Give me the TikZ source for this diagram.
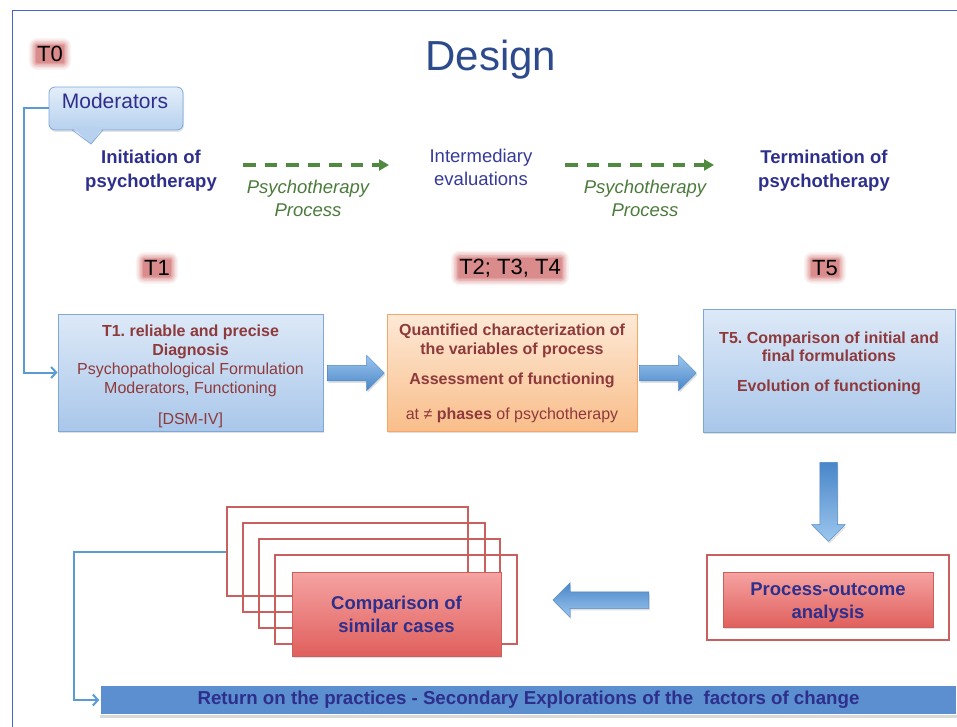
\documentclass[tikz,border=0pt]{standalone}
\usepackage{fontspec}
\setmainfont{Liberation Sans}
\usetikzlibrary{shapes.arrows,shadows,calc,arrows.meta,backgrounds}
\frenchspacing

\definecolor{navy}{HTML}{2E2F8C}
\definecolor{midnavy}{HTML}{363A98}
\definecolor{titleblue}{HTML}{2D4B8C}
\definecolor{framecol}{HTML}{4466C4}
\definecolor{linkblue}{HTML}{5B9BD5}
\definecolor{boxred}{HTML}{8E3A3C}
\definecolor{bluetop}{HTML}{DDE9F7}
\definecolor{bluebot}{HTML}{A9C7EA}
\definecolor{blueedge}{HTML}{7FA7D8}
\definecolor{modtop}{HTML}{E3EEF9}
\definecolor{modbot}{HTML}{B7D1EF}
\definecolor{ortop}{HTML}{FDE9D6}
\definecolor{orbot}{HTML}{F9BE8A}
\definecolor{oredge}{HTML}{F4A766}
\definecolor{redtop}{HTML}{F5A3A2}
\definecolor{redbot}{HTML}{E0605D}
\definecolor{rededge}{HTML}{C9605E}
\definecolor{procgreen}{HTML}{4B7B3B}
\definecolor{dashgreen}{HTML}{4F8A40}
\definecolor{glowred}{HTML}{CC5F5F}
\definecolor{arrtop}{HTML}{9CC6EE}
\definecolor{arrmid}{HTML}{6CA6DF}
\definecolor{arrbot}{HTML}{4A86C8}
\definecolor{barblue}{HTML}{5B8FD0}

% time-point label with a soft red halo behind it
\newcommand\glowlabel[3]{%
  \node[tlab] (#1) at (#2) {#3};
  \begin{pgfonlayer}{background}
    \foreach \r/\o in {8/0.08,6.5/0.11,5/0.15,3.5/0.2,2/0.26,0.8/0.32}{%
      \fill[glowred, opacity=\o, rounded corners=\r pt]
        ($(#1.south west)+(-\r,\r)$) rectangle ($(#1.north east)+(\r,-\r)$);}
  \end{pgfonlayer}}

\begin{document}
\begin{tikzpicture}[x=1pt,y=-1pt,
  tlab/.style={font=\fontsize{22}{24}\selectfont, text=black, inner sep=0pt},
  stagetxt/.style={font=\fontsize{18.5}{24}\selectfont\bfseries, text=navy, align=center},
  midtxt/.style={font=\fontsize{18.5}{23}\selectfont, text=midnavy, align=center},
  proctxt/.style={font=\fontsize{18.5}{23}\selectfont\itshape, text=procgreen, align=center},
  dasharrow/.style={dashgreen, line width=3.2pt, dash pattern=on 12.5pt off 9pt,
    -{Triangle[length=10pt,width=11pt]}},
  softshadow/.style={drop shadow={shadow xshift=1pt, shadow yshift=-2pt, opacity=0.25}},
  bluebox/.style={draw=blueedge, line width=1pt, top color=bluetop, bottom color=bluebot,
    softshadow, minimum height=117pt},
  orangebox/.style={draw=oredge, line width=1pt, top color=ortop, bottom color=orbot,
    softshadow, minimum height=117pt},
  boxtext/.style={text=boxred, align=center, font=\fontsize{16}{19}\selectfont},
  redbox/.style={draw=rededge, line width=0.8pt, top color=redtop, bottom color=redbot,
    softshadow},
  redtext/.style={text=navy, align=center, font=\fontsize{18.5}{23}\selectfont\bfseries},
  redframe/.style={draw=rededge, line width=2.5pt},
  blockarrow/.style={single arrow, inner xsep=0pt, draw=arrbot, line width=0.5pt,
    top color=arrtop, middle color=arrmid, bottom color=arrbot, softshadow},
  link/.style={linkblue, line width=2pt, -{Straight Barb[length=5pt,width=11pt]}},
  modbox/.style={draw=blueedge, line width=0.8pt, rounded corners=6pt, top color=modtop,
    bottom color=modbot, minimum width=134pt, minimum height=43pt},
  modtext/.style={font=\fontsize{21}{24}\selectfont, text=navy},
  barstyle/.style={fill=barblue, draw=white, line width=1.5pt, minimum width=857pt,
    minimum height=29pt, font=\fontsize{18.7}{20}\selectfont\bfseries, text=navy,
    drop shadow={shadow xshift=0pt, shadow yshift=-3pt, opacity=0.3}}
]
\useasboundingbox (0,0) rectangle (957,727);

% page frame
\draw[framecol, line width=1pt] (957,10.5) -- (12,10.5) -- (12,727);

% title and time points
\node[font=\fontsize{42}{46}\selectfont, text=titleblue] (title) at (491,60) {Design};
\glowlabel{t0lab}{50,54}{T0}
\glowlabel{t1lab}{157,268}{T1}
\glowlabel{tmidlab}{510,268}{T2; T3, T4}
\glowlabel{t5lab}{825,268}{T5}

% moderators callout
\node[modbox, drop shadow={shadow xshift=1pt, shadow yshift=-2pt, opacity=0.2}] (mod) at (116,108.5) {};
\fill[modbot] (72,127.5) -- (91,144) -- (103,127.5) -- cycle;
\draw[blueedge, line width=0.8pt] (72,129.8) -- (91,144) -- (103,129.8);
\node[modtext] (modtxt) at (115,101) {Moderators};

% stages along the therapy timeline
\node[stagetxt] (ini) at (151,170.5) {Initiation of\\psychotherapy};
\node[midtxt] (inter) at (481,167) {Intermediary\\evaluations};
\node[stagetxt] (term) at (824,170.5) {Termination of\\psychotherapy};
\node[proctxt] (proc1) at (308,198) {Psychotherapy\\Process};
\node[proctxt] (proc2) at (645,198) {Psychotherapy\\Process};
\coordinate (d1s) at (243,165);
\coordinate (d1e) at (389,165);
\coordinate (d2s) at (565,165);
\coordinate (d2e) at (714,165);
\draw[dasharrow] (d1s) -- (d1e);
\draw[dasharrow] (d2s) -- (d2e);

% assessment boxes
\node[bluebox, minimum width=265pt] (t1) at (190.5,372.5) {};
\node[boxtext] (t1txt) at (190.5,376) {\textbf{T1. reliable and precise}\\ \textbf{Diagnosis}\\ Psychopathological Formulation\\ Moderators, Functioning\\[12pt]\mbox{[DSM-IV]}};
\node[orangebox, minimum width=250pt] (ob) at (512,372.5) {};
\node[boxtext] (obtxt) at (512,373.5) {\textbf{Quantified characterization of}\\ \textbf{the variables of process}\\[11pt] \textbf{Assessment of functioning}\\[16pt] at ≠ \textbf{phases} of psychotherapy};
\node[bluebox, minimum width=252pt, minimum height=123pt] (t5) at (829,370.5) {};
\node[boxtext, font=\fontsize{16}{18}\selectfont\bfseries] (t5txt) at (829,363) {T5. Comparison of initial and\\ final formulations\\[12pt] Evolution of functioning};

% block arrows between the stages
\node[blockarrow, minimum height=57pt, inner ysep=7.5pt, single arrow head extend=10pt] (a1) at (352,373) {};
\node[blockarrow, minimum height=57pt, inner ysep=7.5pt, single arrow head extend=10pt] (a2) at (664,373) {};
\node[blockarrow, rotate=-90, top color=arrbot, bottom color=arrtop, minimum height=79pt, inner ysep=8.5pt, single arrow head extend=8pt] (a3) at (828.5,497.5) {};
\node[blockarrow, rotate=180, top color=arrbot, bottom color=arrtop, minimum height=96pt, inner ysep=8pt, single arrow head extend=9pt] (a4) at (605,600) {};

% process-outcome analysis
\node[redframe, minimum width=242pt, minimum height=85pt] (poframe) at (828,597.5) {};
\node[redbox, minimum width=210pt, minimum height=55pt] (po) at (828,599.5) {};
\node[redtext] (potxt) at (828,603) {Process-outcome\\analysis};

% stack of similar cases
\node[redframe, minimum width=241pt, minimum height=89pt] (s1) at (347.5,551.5) {};
\node[redframe, minimum width=242pt, minimum height=89pt] (s2) at (364,567.5) {};
\node[redframe, minimum width=241pt, minimum height=89pt] (s3) at (379.5,583.5) {};
\node[redframe, minimum width=242pt, minimum height=89pt] (s4) at (396,599.5) {};
\node[redbox, minimum width=209pt, minimum height=84pt] (cmp) at (396.5,614) {};
\node[redtext] (cmptxt) at (396.5,614) {Comparison of\\similar cases};

% return bar
\node[barstyle] (bar) at (528.5,700) {Return on the practices - Secondary Explorations of the\ \ factors of change};

% connectors
\coordinate (mbend) at (24,108.5);
\draw[link] (mod.west) -- (mbend) |- (t1.west);
\coordinate (sbend) at (74,551.5);
\draw[link] (s1.west) -- (sbend) |- (bar.west);
\end{tikzpicture}
\end{document}
